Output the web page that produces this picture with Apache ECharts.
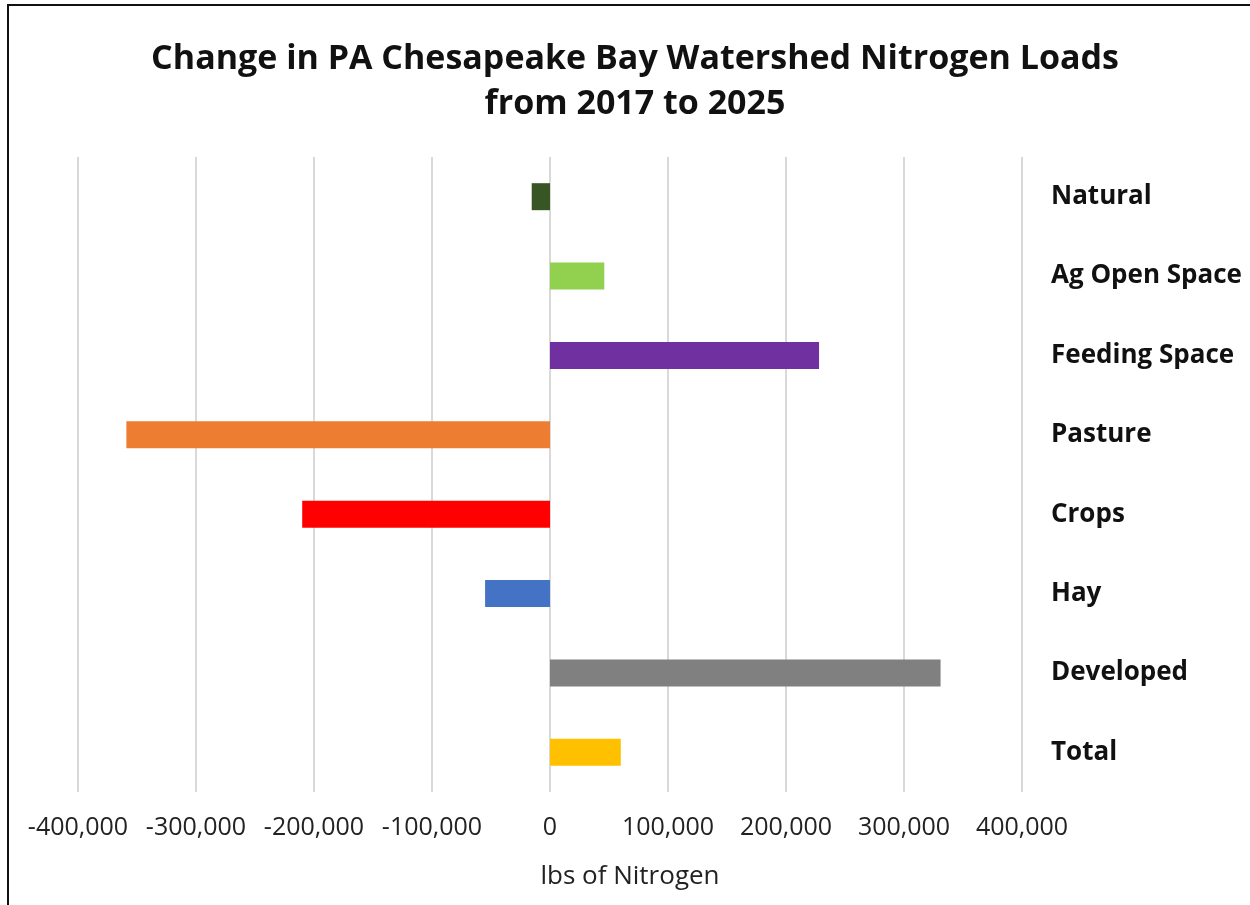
<!DOCTYPE html>
<html>
<head>
<meta charset="utf-8">
<script src="https://cdn.jsdelivr.net/npm/echarts@6/dist/echarts.min.js"></script>
<style>
  html, body { margin: 0; padding: 0; background: #fff; }
  #frame { position: absolute; left: 7px; top: 4px; width: 1243px; height: 901px;
           border-top: 2px solid #111; border-left: 2px solid #111; box-sizing: border-box; }
  #chart { position: absolute; left: 0; top: 0; width: 1250px; height: 905px; }
</style>
</head>
<body>
<div id="frame"></div>
<div id="chart"></div>
<script>
const titleLines = ['Change in PA Chesapeake Bay Watershed Nitrogen Loads', 'from 2017 to 2025'];
const categories = ['Natural', 'Ag Open Space', 'Feeding Space', 'Pasture', 'Crops', 'Hay', 'Developed', 'Total'];
const values = [-15500, 46000, 228000, -359000, -210000, -55000, 331000, 60000];
const colors = ['#375623', '#92D050', '#7030A0', '#ED7D31', '#FF0000', '#4472C4', '#808080', '#FFC000'];
const axisTitle = 'lbs of Nitrogen';

const font = '"Open Sans", Lato, sans-serif';
const chart = echarts.init(document.getElementById('chart'), null, { renderer: 'canvas' });
chart.setOption({
  animation: false,
  title: [{
    text: titleLines.join('\n'),
    left: 630, top: 32, textAlign: 'center',
    textStyle: { fontFamily: font, fontWeight: 'bold', fontSize: 34, color: '#111', lineHeight: 45 }
  }, {
    text: axisTitle,
    left: 625, top: 859, textAlign: 'center',
    textStyle: { fontFamily: font, fontWeight: 'normal', fontSize: 26, color: '#222' }
  }],
  grid: { left: 78, right: 228, top: 157, bottom: 113, containLabel: false },
  xAxis: {
    type: 'value', min: -400000, max: 400000, interval: 100000,
    axisLine: { show: false }, axisTick: { show: false },
    axisLabel: {
      fontFamily: font, fontSize: 25, color: '#222', margin: 23,
      formatter: v => v.toLocaleString('en-US')
    },
    splitLine: { show: true, lineStyle: { color: '#d9d9d9', width: 2 } }
  },
  yAxis: {
    type: 'category', data: categories, inverse: true, position: 'right',
    axisLine: { show: false }, axisTick: { show: false },
    axisLabel: { fontFamily: font, fontWeight: 'bold', fontSize: 26, color: '#111', align: 'left', margin: 29 }
  },
  series: [{
    type: 'bar',
    data: values.map((v, i) => ({ value: v, itemStyle: { color: colors[i] } })),
    barWidth: 27
  }]
});
</script>
</body>
</html>
